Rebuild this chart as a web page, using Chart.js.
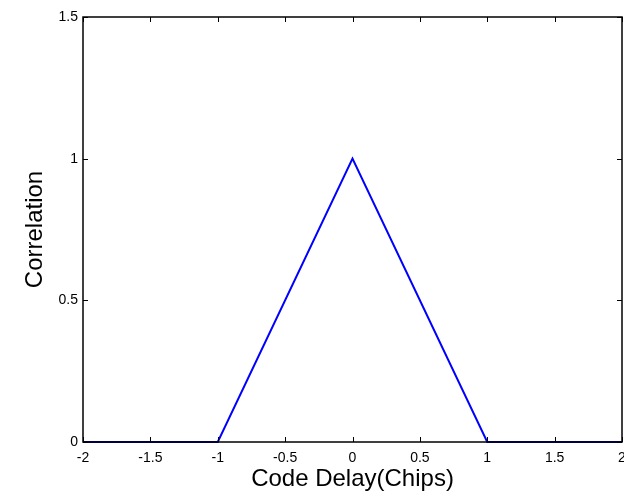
<!DOCTYPE html>
<html>
<head>
<meta charset="utf-8">
<script src="https://cdn.jsdelivr.net/npm/chart.js@4/dist/chart.umd.min.js"></script>
<style>
  html, body { margin: 0; padding: 0; background: #fff; }
  #wrap { width: 624px; height: 494px; }
</style>
</head>
<body>
<div id="wrap"><canvas id="myChart" width="624" height="494"></canvas></div>
<script>
"use strict";

// chart data
const delayChips = [-2, -1, 0, 1, 2];
const correlation = [0, 0, 1, 0, 0];
const xTicks = [-2, -1.5, -1, -0.5, 0, 0.5, 1, 1.5, 2];
const yTicks = [0, 0.5, 1, 1.5];

const points = delayChips.map((x, i) => ({ x: x, y: correlation[i] }));

// matlab style box with inward ticks
const boxPlugin = {
  id: "box",
  afterDatasetsDraw(chart) {
    const { ctx, chartArea: a, scales } = chart;
    const len = 5;
    ctx.save();
    ctx.strokeStyle = "#000";
    ctx.lineWidth = 1;
    ctx.beginPath();
    xTicks.forEach((v) => {
      const px = Math.round(scales.x.getPixelForValue(v)) + 0.5;
      ctx.moveTo(px, a.bottom);
      ctx.lineTo(px, a.bottom - len);
      ctx.moveTo(px, a.top);
      ctx.lineTo(px, a.top + len);
    });
    yTicks.forEach((v) => {
      const py = Math.round(scales.y.getPixelForValue(v)) + 0.5;
      ctx.moveTo(a.left, py);
      ctx.lineTo(a.left + len, py);
      ctx.moveTo(a.right, py);
      ctx.lineTo(a.right - len, py);
    });
    ctx.stroke();
    ctx.lineWidth = 1.5;
    ctx.strokeRect(a.left, a.top, a.right - a.left, a.bottom - a.top);
    ctx.restore();
  },
};

const font = "Arial, 'Liberation Sans', Helvetica, sans-serif";
const fmt = (v) => String(v);

new Chart(document.getElementById("myChart"), {
  type: "line",
  data: {
    datasets: [
      {
        data: points,
        borderColor: "#0000ff",
        borderWidth: 2,
        pointRadius: 0,
        tension: 0,
        fill: false,
        clip: false,
      },
    ],
  },
  options: {
    responsive: false,
    animation: false,
    layout: { padding: { left: 0, right: 2, top: 17, bottom: 0 } },
    plugins: { legend: { display: false }, tooltip: { enabled: false } },
    scales: {
      x: {
        type: "linear",
        min: -2,
        max: 2,
        afterBuildTicks: (s) => { s.ticks = xTicks.map((v) => ({ value: v })); },
        afterFit: (s) => { s.height = 52; s.paddingLeft = 0; s.paddingRight = 0; },
        grid: { display: false, drawTicks: false },
        border: { display: false },
        ticks: { color: "#000", padding: 8, maxRotation: 0, autoSkip: false, callback: fmt, font: { family: font, size: 14 } },
        title: {
          display: true,
          text: "Code Delay(Chips)",
          color: "#000",
          font: { family: font, size: 24 },
          padding: { top: 0, bottom: 0 },
        },
      },
      y: {
        min: 0,
        max: 1.5,
        afterBuildTicks: (s) => { s.ticks = yTicks.map((v) => ({ value: v })); },
        afterFit: (s) => { s.width = 83; s.paddingTop = 0; s.paddingBottom = 0; },
        grid: { display: false, drawTicks: false },
        border: { display: false },
        ticks: { color: "#000", padding: 5, callback: fmt, font: { family: font, size: 14 } },
        title: {
          display: true,
          text: "Correlation",
          color: "#000",
          font: { family: font, size: 24 },
          padding: { top: 21, bottom: 0 },
        },
      },
    },
  },
  plugins: [boxPlugin],
});
</script>
</body>
</html>
